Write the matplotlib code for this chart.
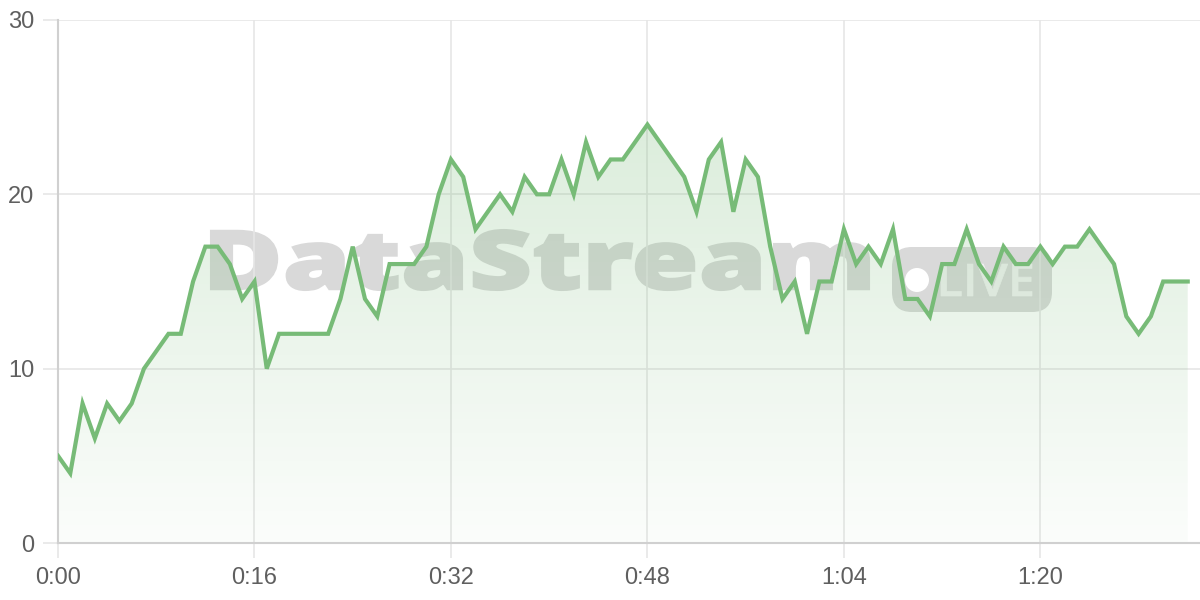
import numpy as np
import matplotlib
matplotlib.use('Agg')
import matplotlib.pyplot as plt
from matplotlib.patches import Polygon, FancyBboxPatch, Circle, PathPatch
from matplotlib.textpath import TextPath
from matplotlib.font_manager import FontProperties
from matplotlib.transforms import Affine2D

# viewers per minute, one point per minute
minutes = list(range(93))
viewers = [5, 4, 8, 6, 8, 7, 8, 10, 11, 12,
           12, 15, 17, 17, 16, 14, 15, 10, 12, 12,
           12, 12, 12, 14, 17, 14, 13, 16, 16, 16,
           17, 20, 22, 21, 18, 19, 20, 19, 21, 20,
           20, 22, 20, 23, 21, 22, 22, 23, 24, 23,
           22, 21, 19, 22, 23, 19, 22, 21, 17, 14,
           15, 12, 15, 15, 18, 16, 17, 16, 18, 14,
           14, 13, 16, 16, 18, 16, 15, 17, 16, 16,
           17, 16, 17, 17, 18, 17, 16, 13, 12, 13,
           15, 15, 15]
x_ticks = [0, 16, 32, 48, 64, 80]
y_ticks = [0, 10, 20, 30]

line_col = '#77bb77'
grid_col = '#e6e6e6'
text_col = '#5f5f5f'
wm_col = '#d9d9d9'

plt.rcParams['font.family'] = ['Liberation Sans', 'DejaVu Sans']

W, H = 1200, 600
fig = plt.figure(figsize=(W / 100, H / 100), dpi=100)
ax = fig.add_axes([58 / W, 57 / H, 1142 / W, 523 / H])

x = np.array(minutes)
y = np.array(viewers)

# gradient fill under the line
verts = [(x[0], 0)] + list(zip(x, y)) + [(x[-1], 0)]
clip = Polygon(verts, closed=True, facecolor='none', edgecolor='none')
ax.add_patch(clip)
top = y.max()
rgba = np.zeros((256, 1, 4))
rgba[..., 0] = 0.47
rgba[..., 1] = 0.73
rgba[..., 2] = 0.47
rgba[..., 3] = np.linspace(0.03, 0.26, 256).reshape(-1, 1)
im = ax.imshow(rgba, extent=[x[0], x[-1], 0, top], origin='lower',
               aspect='auto', zorder=1, interpolation='bilinear')
im.set_clip_path(clip)

ax.plot(x, y, color=line_col, lw=3, zorder=3, solid_joinstyle='miter')

ax.set_xlim(0, 93)
ax.set_ylim(0, 30)
ax.set_xticks(x_ticks)
ax.set_xticklabels(['%d:%02d' % (m // 60, m % 60) for m in x_ticks])
ax.set_yticks(y_ticks)
ax.grid(True, color=grid_col, lw=1.2, zorder=0.5)
ax.set_axisbelow(True)
for s in ['top', 'right']:
    ax.spines[s].set_visible(False)
for s in ['left', 'bottom']:
    ax.spines[s].set_color('#d0d0d0')
    ax.spines[s].set_linewidth(1.5)
ax.tick_params(axis='both', length=11, width=1.2, color=grid_col,
               labelcolor=text_col, labelsize=17, pad=6)


# watermark behind grid and fill, boxes in pixels from the top left corner
def text_in_box(s, left, top_px, right, bottom_px, weight, color, lw):
    tp = TextPath((0, 0), s, size=1,
                  prop=FontProperties(family='Open Sans', weight=weight))
    ext = tp.get_extents()
    tr = (Affine2D().translate(-ext.x0, -ext.y0)
          .scale((right - left) / ext.width, (bottom_px - top_px) / ext.height)
          .translate(left, H - bottom_px))
    ax.add_patch(PathPatch(tp, transform=tr, facecolor=color, edgecolor=color,
                           lw=lw, zorder=0.4))


text_in_box('DataStream', 211, 230, 869, 290, 'heavy', wm_col, 1.5)
ax.add_patch(FancyBboxPatch((892, H - 312), 160, 65,
                            boxstyle='round,pad=0,rounding_size=20',
                            transform=None, facecolor=wm_col,
                            edgecolor='none', zorder=0.3))
ax.add_patch(Circle((917, H - 280), 12, transform=None,
                    facecolor='white', edgecolor='none', zorder=0.4))
text_in_box('LIVE', 941, 264, 1032, 296, 'semibold', '#f2f2f2', 0.5)

fig.savefig('out.png', dpi=100)
